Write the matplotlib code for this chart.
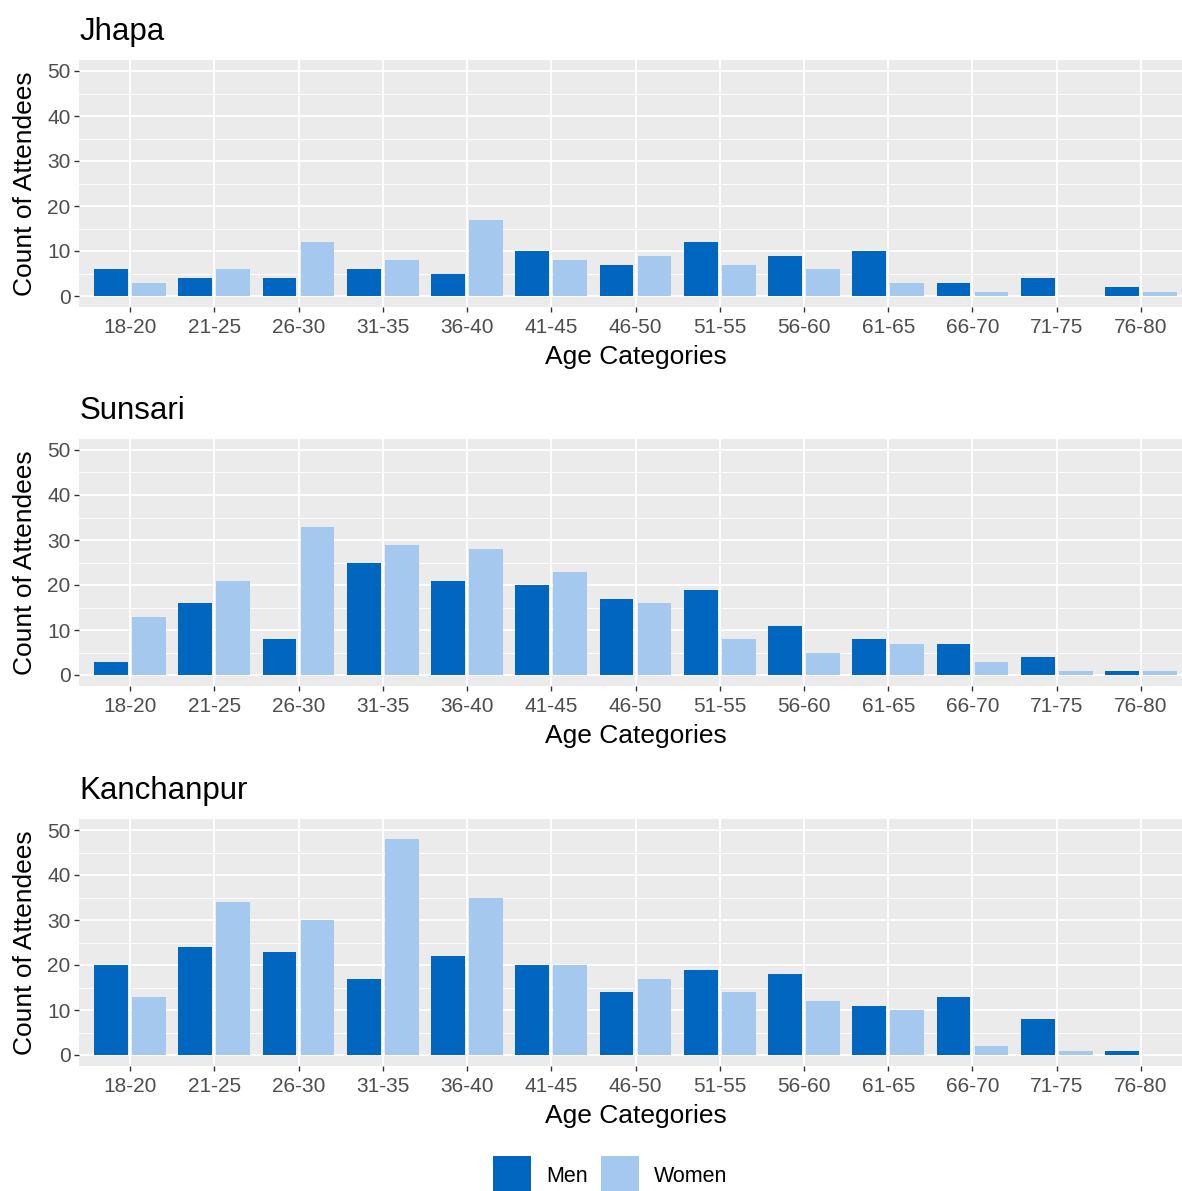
import numpy as np
import matplotlib
matplotlib.use("Agg")
import matplotlib.pyplot as plt
from matplotlib.patches import Rectangle

age_groups = ["18-20", "21-25", "26-30", "31-35", "36-40", "41-45", "46-50",
              "51-55", "56-60", "61-65", "66-70", "71-75", "76-80"]

districts = ["Jhapa", "Sunsari", "Kanchanpur"]

jhapa_men = [6, 4, 4, 6, 5, 10, 7, 12, 9, 10, 3, 4, 2]
jhapa_women = [3, 6, 12, 8, 17, 8, 9, 7, 6, 3, 1, 0, 1]

sunsari_men = [3, 16, 8, 25, 21, 20, 17, 19, 11, 8, 7, 4, 1]
sunsari_women = [13, 21, 33, 29, 28, 23, 16, 8, 5, 7, 3, 1, 1]

kanchanpur_men = [20, 24, 23, 17, 22, 20, 14, 19, 18, 11, 13, 8, 1]
kanchanpur_women = [13, 34, 30, 48, 35, 20, 17, 14, 12, 10, 2, 1, 0]

men_counts = [jhapa_men, sunsari_men, kanchanpur_men]
women_counts = [jhapa_women, sunsari_women, kanchanpur_women]

MEN_COLOR = "#0066C0"
WOMEN_COLOR = "#A5C8EE"
PANEL_BG = "#EBEBEB"

plt.rcParams["font.family"] = ["Liberation Sans", "DejaVu Sans"]

W, H = 1182, 1191
fig = plt.figure(figsize=(W / 100, H / 100), dpi=100)

# panel boxes in pixels: (left, top, right, bottom)
panels = [(79.5, 59.75, 1191.5, 307.25),
          (79.5, 438.75, 1191.5, 686.25),
          (79.5, 818.75, 1191.5, 1066.25)]

x = np.arange(1, len(age_groups) + 1)

for name, men, women, (l, t, r, b) in zip(districts, men_counts, women_counts, panels):
    ax = fig.add_axes([l / W, 1 - b / H, (r - l) / W, (b - t) / H])
    ax.set_facecolor(PANEL_BG)
    ax.bar(x - 0.225, men, width=0.4, color=MEN_COLOR, zorder=3)
    ax.bar(x + 0.225, women, width=0.4, color=WOMEN_COLOR, zorder=3)
    ax.set_xlim(0.4, 13.6)
    ax.set_ylim(-2.5, 52.5)
    ax.set_xticks(x)
    ax.set_xticklabels(age_groups)
    ax.set_yticks(np.arange(0, 51, 10))
    ax.set_yticks(np.arange(5, 50, 10), minor=True)
    ax.grid(which="major", color="white", linewidth=1.3, zorder=1)
    ax.grid(which="minor", axis="y", color="white", linewidth=0.65, zorder=1)
    ax.tick_params(which="minor", length=0)
    ax.tick_params(which="major", length=3.5, width=1.0, color="#333333",
                   labelcolor="#4D4D4D", labelsize=15, pad=3)
    ax.tick_params(axis="x", pad=4)
    for s in ax.spines.values():
        s.set_visible(False)
    ax.set_axisbelow(True)
    ax.set_xlabel("Age Categories", fontsize=19, color="black", labelpad=6)
    ax.set_ylabel("Count of Attendees", fontsize=19, color="black", labelpad=7)
    fig.text(l / W, 1 - (t - 28) / H, name, fontsize=22.5, color="black",
             ha="left", va="center")

# legend keys and labels along the bottom
legend_items = [("Men", MEN_COLOR, 493), ("Women", WOMEN_COLOR, 601)]
for label, color, kx in legend_items:
    fig.add_artist(Rectangle((kx / W, 0), 38 / W, 35 / H, transform=fig.transFigure,
                             facecolor=color, edgecolor="none"))
    fig.text((kx + 53) / W, 1 - 1177 / H, label, fontsize=15.5, color="black",
             ha="left", va="center")

fig.savefig("out.png", dpi=100)
